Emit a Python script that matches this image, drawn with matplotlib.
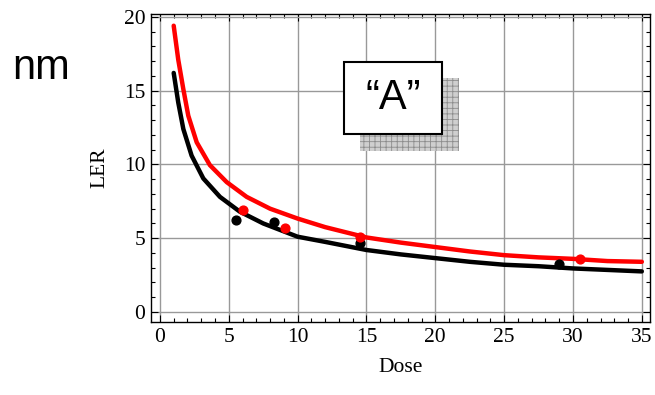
import numpy as np
import matplotlib
matplotlib.use('Agg')
import matplotlib.pyplot as plt
from matplotlib.patches import Rectangle
from matplotlib.ticker import MultipleLocator

# Curves (Dose vs LER)
red_dose = [1, 1.33, 1.7, 2.06, 2.67, 3.63, 4.85, 6.3, 8, 10, 12, 15, 17.5, 20, 22.5, 25, 27.5, 30, 32.5, 35]
red_ler = [19.4, 17.1, 15.1, 13.3, 11.5, 9.95, 8.8, 7.8, 7.0, 6.33, 5.75, 5.05, 4.7, 4.4, 4.1, 3.85, 3.7, 3.6, 3.45, 3.4]

black_dose = [1, 1.33, 1.7, 2.3, 3.15, 4.36, 5.8, 7.5, 10, 12, 15, 17.5, 20, 22.5, 25, 27.5, 30, 32.5, 35]
black_ler = [16.2, 14.2, 12.4, 10.6, 9.05, 7.8, 6.8, 6.0, 5.1, 4.75, 4.2, 3.9, 3.65, 3.4, 3.2, 3.1, 2.95, 2.85, 2.75]

# measured points
red_pts_dose = [6.05, 9.05, 14.55, 30.5]
red_pts_ler = [6.9, 5.7, 5.05, 3.6]
black_pts_dose = [5.5, 8.25, 14.55, 28.95]
black_pts_ler = [6.2, 6.1, 4.65, 3.25]

xticks = [0, 5, 10, 15, 20, 25, 30, 35]
yticks = [0, 5, 10, 15, 20]

serif = 'Liberation Serif'
sans = 'Liberation Sans'

fig = plt.figure(figsize=(6.55, 3.95), dpi=100)
ax = fig.add_axes([0.2305, 0.1848, 0.762, 0.78])

ax.plot(red_dose, red_ler, color='#ff0000', lw=3.2, solid_capstyle='round',
        solid_joinstyle='round', zorder=4)
ax.plot(black_dose, black_ler, color='black', lw=3.2, solid_capstyle='round',
        solid_joinstyle='round', zorder=3)
ax.scatter(black_pts_dose, black_pts_ler, s=40, color='black', zorder=5)
ax.scatter(red_pts_dose, red_pts_ler, s=40, color='#ff0000', zorder=6)

ax.set_xlim(-0.65, 35.6)
ax.set_ylim(-0.68, 20.2)
ax.set_xticks(xticks)
ax.set_yticks(yticks)
ax.xaxis.set_minor_locator(MultipleLocator(1))
ax.yaxis.set_minor_locator(MultipleLocator(1))
ax.tick_params(which='both', direction='in', top=True, right=True, width=0.8)
ax.tick_params(which='major', length=5, labelsize=15.5, pad=4)
ax.tick_params(which='minor', length=3)
for lab in ax.get_xticklabels() + ax.get_yticklabels():
    lab.set_fontfamily(serif)
ax.grid(True, which='major', color='#999999', lw=1.0)
ax.set_axisbelow(True)
for s in ax.spines.values():
    s.set_linewidth(1.0)

ax.set_xlabel('Dose', fontfamily=serif, fontsize=15.5, labelpad=8)
ax.set_ylabel('LER', fontfamily=serif, fontsize=15.5, labelpad=10)

# "A" box with hatched shadow
plt.rcParams['hatch.color'] = '#8c8c8c'
plt.rcParams['hatch.linewidth'] = 0.6
shadow = Rectangle((14.53, 10.88), 7.2, 5.0, facecolor='#cfcfcf', edgecolor='#8c8c8c',
                   hatch='+++', lw=0, zorder=2)
ax.add_patch(shadow)
box = Rectangle((13.37, 12.03), 7.13, 4.93, facecolor='white', edgecolor='black',
                lw=1.5, zorder=2.5)
ax.add_patch(box)
ax.text(16.93, 14.5, '\u201cA\u201d', fontfamily=sans, fontsize=30,
        ha='center', va='center', zorder=3)

fig.text(0.018, 0.828, 'nm', fontfamily=sans, fontsize=30, ha='left', va='center')

fig.savefig('out.png', dpi=100)
